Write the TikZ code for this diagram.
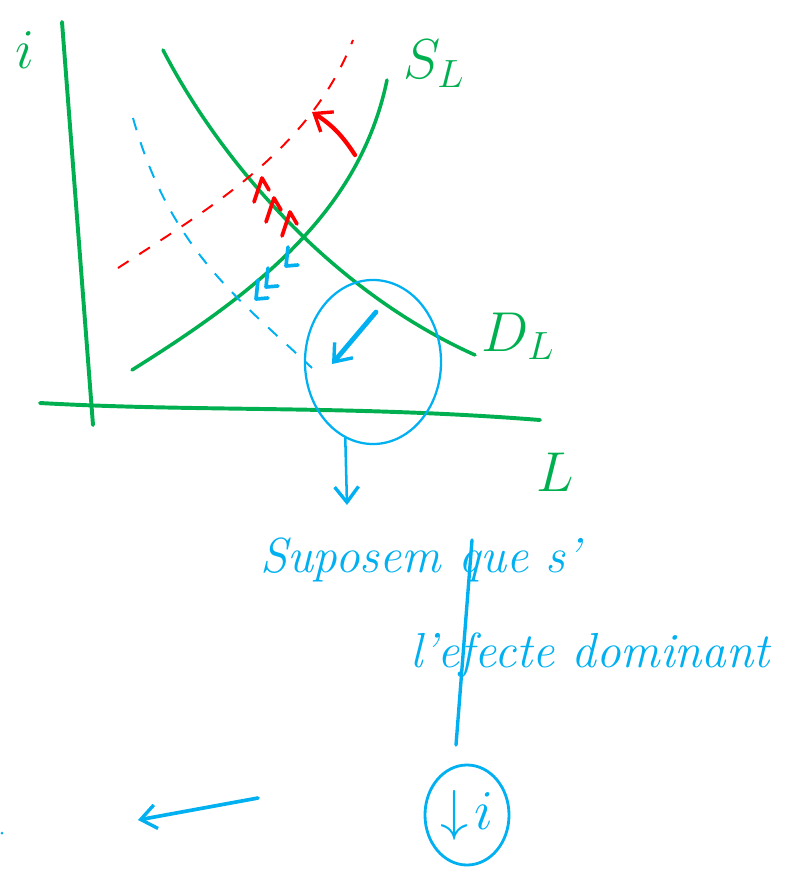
\RequirePackage{fix-cm}
\documentclass[tikz,border=0pt]{standalone}
\usepackage{xcolor}
\usepackage{tikz}
\usepackage{amsmath}
\usetikzlibrary{arrows.meta,shapes.geometric}
\definecolor{PenGreen}{HTML}{00B050}
\definecolor{PenBlue}{HTML}{00B0F0}
\definecolor{PenRed}{HTML}{FF0000}

\begin{document}
\begin{tikzpicture}[x=0.025cm, y=-0.025cm,
    axisline/.style={PenGreen, line width=2.8pt, line cap=round},
    curveline/.style={PenGreen, line width=2.5pt, line cap=round},
    shiftline/.style={line width=1.4pt, dash pattern=on 9pt off 9pt},
    penarrow/.style={line width=2.6pt, line cap=round,
      -{Straight Barb[length=11pt, width=17pt, line width=2.4pt]}},
    tick/.style={line width=2.6pt, line cap=round, line join=round},
    axislabel/.style={PenGreen, font=\fontsize{40}{46}\selectfont},
    hand/.style={PenBlue, font=\fontsize{35}{42}\selectfont\itshape}]
  \useasboundingbox (0,0) rectangle (796,880);

  % axes
  \coordinate (yTop) at (62,22);
  \coordinate (yBot) at (93,425);
  \coordinate (xLeft) at (40,403);
  \coordinate (xRight) at (540,420);
  \draw[axisline] (yTop) -- (yBot);
  \draw[axisline] (xLeft) .. controls (200,412) and (350,405) .. (xRight);
  \node[axislabel] (iLabel) at (25,50) {$i$};
  \node[axislabel] (LLabel) at (555,472) {$L$};

  % supply and demand
  \draw[curveline] (132,370) .. controls (260,290) and (360,210) .. (387,80);
  \draw[curveline] (163,50) .. controls (220,160) and (330,290) .. (475,355);
  \node[axislabel] (SLabel) at (434,64) {$S_L$};
  \node[axislabel] (DLabel) at (518,336) {$D_L$};

  % shifted supply (red) and shifted curve (blue)
  \draw[PenRed, shiftline] (118,268) .. controls (210,208) and (310,150) .. (353,40);
  \draw[PenBlue, shiftline] (133,118) .. controls (170,250) and (240,300) .. (312,368);

  \coordinate (supFrom) at (355,155);
  \coordinate (supTo) at (312,112);
  \draw[PenRed, penarrow, line width=3pt] (supFrom) to[bend right=12] (supTo);
  \foreach \x/\y in {262/178, 274/198, 290/212}
    \draw[PenRed, tick] (\x-8,\y+24) -- (\x,\y) -- (\x+7,\y+12);
  \foreach \x/\y in {288/247, 268/268, 258/280}
    \draw[PenBlue, tick] (\x,\y) -- (\x-2,\y+19) -- (\x+10,\y+18);

  % circled effect
  \node[draw=PenBlue, line width=1.6pt, ellipse, minimum width=3.4cm,
        minimum height=4.1cm, inner sep=0pt] (focus) at (373,362) {};
  \coordinate (effFrom) at (376,312);
  \coordinate (effTo) at (332,364);
  \draw[PenBlue, penarrow, line width=3.4pt] (effFrom) -- (effTo);

  \node[hand] (textA) at (420,560) {Suposem que s'};
  \node[hand] (textB) at (590,655) {l'efecte dominant};
  \coordinate (textTop) at (347,505);
  \draw[PenBlue, penarrow, line width=1.8pt] (focus.250) -- (textTop);

  \coordinate (qStem) at (472,540);
  \coordinate (qFoot) at (456,745);
  \draw[PenBlue, line width=2.4pt, line cap=round] (qStem) -- (qFoot);

  \node[draw=PenBlue, line width=2pt, ellipse, minimum width=2.1cm,
        minimum height=2.5cm, inner sep=0pt, PenBlue,
        font=\fontsize{40}{46}\selectfont] (result) at (467,815) {$\downarrow\! i$};

  \coordinate (leftFrom) at (258,798);
  \coordinate (leftTo) at (138,820);
  \draw[PenBlue, penarrow] (leftFrom) -- (leftTo);
  \fill[PenBlue] (2,833) circle [radius=1.5];
\end{tikzpicture}
\end{document}
